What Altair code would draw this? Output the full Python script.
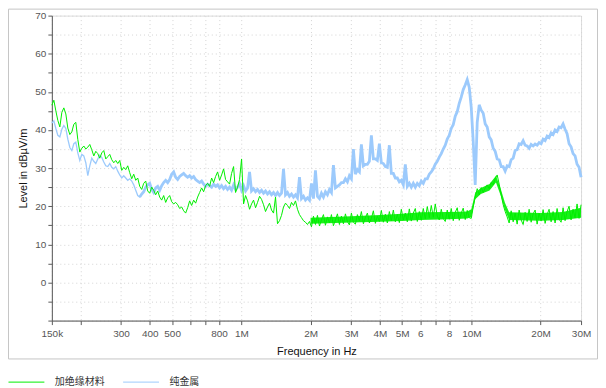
import altair as alt
import pandas as pd
import numpy as np

# ---------------- data ----------------
SERIES_NAMES = ["加绝缘材料", "纯金属"]
SERIES_COLORS = ["#00ee00", "#9ccafc"]

# analyzer sweep: log-spaced points from 150 kHz to 30 MHz (values in MHz)
F_START_MHZ = 0.15
F_STOP_MHZ = 30.0

green_levels = [
    46.5, 47.8, 45.0, 42.5, 40.8, 44.6, 45.8, 44.2, 40.5, 38.8,
    39.5, 41.5, 42.0, 37.5, 34.2, 35.2, 35.8, 35.0, 35.5, 36.2,
    34.8, 33.2, 34.4, 33.8, 32.6, 34.0, 34.6, 32.4, 33.0, 33.6,
    32.2, 31.4, 32.0, 31.2, 32.0, 29.4, 30.2, 29.6, 30.6, 28.8,
    27.2, 28.4, 26.8, 27.4, 25.2, 24.4, 26.0, 26.6, 24.0, 23.4,
    25.0, 24.2, 23.0, 24.0, 22.4, 21.6, 22.8, 21.0, 22.2, 22.8,
    21.2, 20.6, 21.0, 20.4, 19.4, 19.8, 18.8, 18.2, 19.6, 21.4,
    20.2, 21.6, 20.8, 22.4, 23.6, 24.8, 23.8, 25.4, 26.0, 25.2,
    27.4, 26.2, 27.8, 29.0, 26.8, 28.2, 29.8, 27.0, 26.4, 25.8,
    28.6, 30.4, 23.6, 25.0, 27.0, 32.4, 20.6, 22.8, 21.4, 19.2,
    20.6, 21.6, 19.6, 21.0, 22.6, 21.8, 20.4, 18.6, 19.8, 20.8,
    19.0, 18.2, 22.4, 15.4, 16.2, 17.6, 19.8, 20.8, 20.2, 19.4,
    21.0, 20.2, 21.4, 19.2, 17.8, 17.0, 16.2, 15.8, 15.2, 16.0,
    14.6, 17.4, 15.2, 17.6, 14.8, 16.4, 17.8, 15.0, 17.2, 15.6,
    17.8, 14.9, 16.4, 18.0, 15.2, 17.4, 15.4, 18.0, 16.0, 15.1,
    18.2, 15.8, 15.3, 17.8, 16.2, 18.6, 15.4, 17.0, 18.2, 15.6,
    16.8, 18.8, 15.5, 17.4, 16.0, 18.9, 15.8, 17.9, 15.6, 18.6,
    16.2, 19.0, 15.9, 17.8, 15.7, 19.2, 16.4, 18.2, 15.9, 19.3,
    16.1, 18.2, 19.4, 16.0, 18.6, 16.3, 19.4, 16.7, 19.9, 17.0,
    20.2, 17.1, 20.6, 17.4, 16.4, 19.2, 16.8, 16.0, 19.0, 16.6,
    19.4, 16.2, 18.4, 19.6, 16.3, 18.2, 19.5, 16.5, 18.9, 17.0,
    16.8, 19.8, 22.4, 24.6, 23.0, 24.9, 23.6, 24.8, 25.6, 24.6,
    26.2, 25.6, 27.2, 28.2, 25.8, 23.0, 20.4, 18.6, 17.2, 15.6,
    18.8, 15.9, 18.2, 15.3, 19.0, 16.4, 15.2, 18.4, 16.0, 19.2,
    15.8, 18.0, 19.0, 15.3, 18.2, 16.1, 19.1, 15.5, 17.8, 19.2,
    15.9, 18.6, 15.6, 19.4, 16.6, 15.8, 19.6, 16.2, 18.6, 20.0,
    16.4, 19.2, 16.9, 20.6, 16.8, 20.4,
]

# solid core of the green noise band above 2 MHz (freq MHz, low dB, high dB)
green_band_freq = [2.0, 3.0, 4.0, 5.0, 6.0, 8.0, 9.6, 10.0, 10.4, 11.0, 12.0, 12.8, 13.4, 14.0, 14.6, 20.0, 25.0, 30.0]
green_band_low = [15.4, 15.7, 15.9, 16.1, 16.4, 16.6, 16.8, 17.2, 21.8, 23.2, 24.1, 26.2, 22.9, 19.1, 16.4, 16.2, 16.4, 17.0]
green_band_high = [17.0, 17.4, 17.7, 18.0, 18.4, 18.5, 18.6, 19.2, 23.6, 24.8, 25.8, 28.0, 24.7, 20.9, 18.4, 18.2, 18.5, 19.6]

blue_levels = [
    41.8, 42.4, 40.4, 38.6, 38.2, 40.2, 41.2, 40.4, 37.6, 35.4,
    34.6, 36.4, 36.8, 34.0, 32.0, 33.6, 33.2, 31.4, 28.0, 30.6,
    32.6, 31.8, 31.2, 32.4, 33.4, 32.8, 31.6, 30.6, 30.4, 31.2,
    30.2, 29.8, 30.4, 29.2, 28.2, 27.4, 28.0, 27.4, 26.8, 27.2,
    26.6, 25.6, 24.2, 22.8, 22.4, 23.2, 23.8, 25.0, 25.6, 26.0,
    24.4, 23.6, 24.8, 25.2, 24.2, 25.4, 26.2, 26.8, 26.2, 27.0,
    28.4, 29.0, 27.6, 27.0, 27.8, 28.2, 28.6, 28.0, 27.6, 28.0,
    27.4, 27.8, 27.0, 26.6, 26.2, 26.6, 25.8, 25.2, 25.8, 25.4,
    25.0, 25.8, 25.2, 25.6, 24.8, 25.4, 24.6, 25.2, 24.4, 25.0,
    24.2, 25.6, 24.4, 25.0, 26.0, 24.2, 25.4, 24.0, 24.8, 29.0,
    24.0, 24.6, 23.8, 24.4, 23.6, 24.2, 23.4, 24.0, 23.2, 23.8,
    23.0, 23.6, 22.8, 23.6, 22.8, 23.4, 29.8, 23.0, 23.6, 22.6,
    23.2, 22.4, 23.0, 22.2, 27.6, 22.0, 22.6, 21.6, 22.2, 21.6,
    26.0, 22.0, 29.4, 22.6, 22.0, 23.4, 22.4, 23.8, 23.0, 24.4,
    23.6, 30.8, 24.8, 25.2, 25.6, 26.2, 26.2, 27.2, 26.4, 28.0,
    27.2, 35.0, 28.4, 29.6, 29.0, 36.2, 30.6, 31.0, 31.0, 31.8,
    38.6, 32.4, 32.4, 32.0, 36.4, 31.4, 31.2, 30.4, 30.2, 36.0,
    28.6, 28.6, 27.4, 27.4, 26.4, 26.8, 25.6, 31.0, 25.2, 26.0,
    25.0, 26.0, 25.0, 26.0, 25.4, 26.6, 26.0, 27.2, 27.2, 28.4,
    29.0, 29.8, 31.0, 31.8, 32.9, 33.8, 35.0, 36.0, 37.6, 38.6,
    40.4, 41.4, 43.6, 44.8, 47.0, 48.6, 50.6, 51.8, 53.2, 51.2,
    46.0, 37.0, 25.6, 42.0, 46.6, 45.2, 44.4, 41.6, 40.8, 38.2,
    37.4, 35.2, 34.4, 32.4, 32.2, 30.4, 30.4, 29.2, 30.6, 30.4,
    32.2, 32.6, 34.6, 34.8, 36.4, 36.2, 37.2, 36.0, 35.8, 35.2,
    36.2, 35.8, 36.3, 36.0, 36.7, 36.4, 37.6, 37.2, 38.4, 38.0,
    39.2, 38.8, 40.0, 39.6, 40.8, 40.6, 41.6, 40.2, 39.0, 36.4,
    35.6, 33.8, 33.2, 31.0, 30.2, 27.6,
]

# above this frequency the blue trace is drawn as a wider (noisier) band
BLUE_WIDE_FROM_MHZ = 0.36

freq_ticks = [0.15, 0.2, 0.3, 0.4, 0.5, 0.6, 0.7, 0.8, 1, 2, 3, 4, 5, 6, 7, 8, 10, 20, 30]
freq_tick_labels = ["150k", "", "300", "400", "500", "", "", "800", "1M",
                    "2M", "3M", "4M", "5M", "6", "", "8", "10M", "20M", "30M"]

level_ticks = [-10, -5, 0, 5, 10, 15, 20, 25, 30, 35, 40, 45, 50, 55, 60, 65, 70]
level_tick_labels = ["", "", "0", "", "10", "", "20", "", "30", "", "40", "", "50", "", "60", "", "70"]


def sweep(levels):
    return np.geomspace(F_START_MHZ, F_STOP_MHZ, len(levels))


df_green = pd.DataFrame({"freq": sweep(green_levels), "level": green_levels, "series": SERIES_NAMES[0]})
df_blue = pd.DataFrame({"freq": sweep(blue_levels), "level": blue_levels, "series": SERIES_NAMES[1]})
df_gband = pd.DataFrame({"freq": green_band_freq, "level": green_band_low, "high": green_band_high})


def label_expr(values, labels):
    parts = [f"datum.value == {v} ? '{l}'" for v, l in zip(values, labels)]
    return " : ".join(parts) + " : ''"


# ---------------- chart ----------------
W, H = 531, 306
GRID = "#d4d4d4"
AXIS_COL = "#5a5a5a"
LABEL_COL = "#555555"
FONT = "Liberation Sans"

x_scale = alt.Scale(type="log", domain=[F_START_MHZ, F_STOP_MHZ], nice=False, zero=False)
y_scale = alt.Scale(domain=[-10, 70], nice=False, zero=False)

x_axis = alt.Axis(
    title="Frequency in Hz",
    values=freq_ticks,
    labelExpr=label_expr(freq_ticks, freq_tick_labels),
    grid=True, gridColor=GRID, gridDash=[1, 3], gridWidth=1,
    domainColor=AXIS_COL, tickColor=AXIS_COL, tickSize=4,
    labelColor=LABEL_COL, labelFont=FONT, labelFontSize=10, labelPadding=4,
    labelFlush=False, labelOverlap=False,
    titleFont=FONT, titleFontSize=11, titleFontWeight="normal", titleColor="#111111",
    titlePadding=7,
)
y_axis = alt.Axis(
    title="Level in dBµV/m",
    values=level_ticks,
    labelExpr=label_expr(level_ticks, level_tick_labels),
    grid=True, gridColor=GRID, gridDash=[1, 3], gridWidth=1,
    domainColor=AXIS_COL, tickColor=AXIS_COL, tickSize=4,
    labelColor=LABEL_COL, labelFont=FONT, labelFontSize=10, labelPadding=2,
    labelOverlap=False, labelFlush=False,
    titleFont=FONT, titleFontSize=11, titleFontWeight="normal", titleColor="#111111",
    titlePadding=6,
)
x_enc = alt.X("freq:Q", scale=x_scale, axis=x_axis)
y_enc = alt.Y("level:Q", scale=y_scale, axis=y_axis)

color_scale = alt.Scale(domain=SERIES_NAMES, range=SERIES_COLORS)
legend = alt.Legend(
    title=None, orient="none", legendX=-44, legendY=349, direction="horizontal",
    symbolType="stroke", symbolSize=1296, symbolStrokeWidth=1,
    labelFont="Noto Sans CJK SC", labelFontSize=10, labelColor="#333333",
    labelOffset=10, columnPadding=16,
)
color_enc = alt.Color("series:N", scale=color_scale, legend=legend)

frame = alt.Chart(pd.DataFrame({"k": [0]})).mark_rect(
    fill=None, stroke="#c6c6c6", strokeWidth=1
).encode(
    x=alt.value(-43.5), x2=alt.value(547.5), y=alt.value(-6.5), y2=alt.value(344.5)
)

blue_thin = alt.Chart(df_blue).transform_filter(
    alt.datum.freq <= BLUE_WIDE_FROM_MHZ + 0.01
).mark_line(strokeWidth=1.3).encode(x=x_enc, y=y_enc, color=color_enc)
blue_wide = alt.Chart(df_blue).transform_filter(
    alt.datum.freq >= BLUE_WIDE_FROM_MHZ
).mark_line(strokeWidth=2.8).encode(x=x_enc, y=y_enc, color=color_enc)

green_band = alt.Chart(df_gband).mark_area(color=SERIES_COLORS[0], opacity=0.9).encode(
    x=x_enc, y=y_enc, y2="high:Q",
)
green = alt.Chart(df_green).mark_line(strokeWidth=1.0).encode(
    x=x_enc, y=y_enc, color=color_enc,
)

chart = alt.layer(frame, blue_thin, blue_wide, green_band, green).properties(
    width=W, height=H,
    autosize=alt.AutoSizeParams(type="none"),
    padding={"left": 44, "top": 7, "right": 17, "bottom": 66},
).configure_view(stroke=None).configure(background="white")

chart.save("out.html", embed_options={"renderer": "svg", "actions": False})
